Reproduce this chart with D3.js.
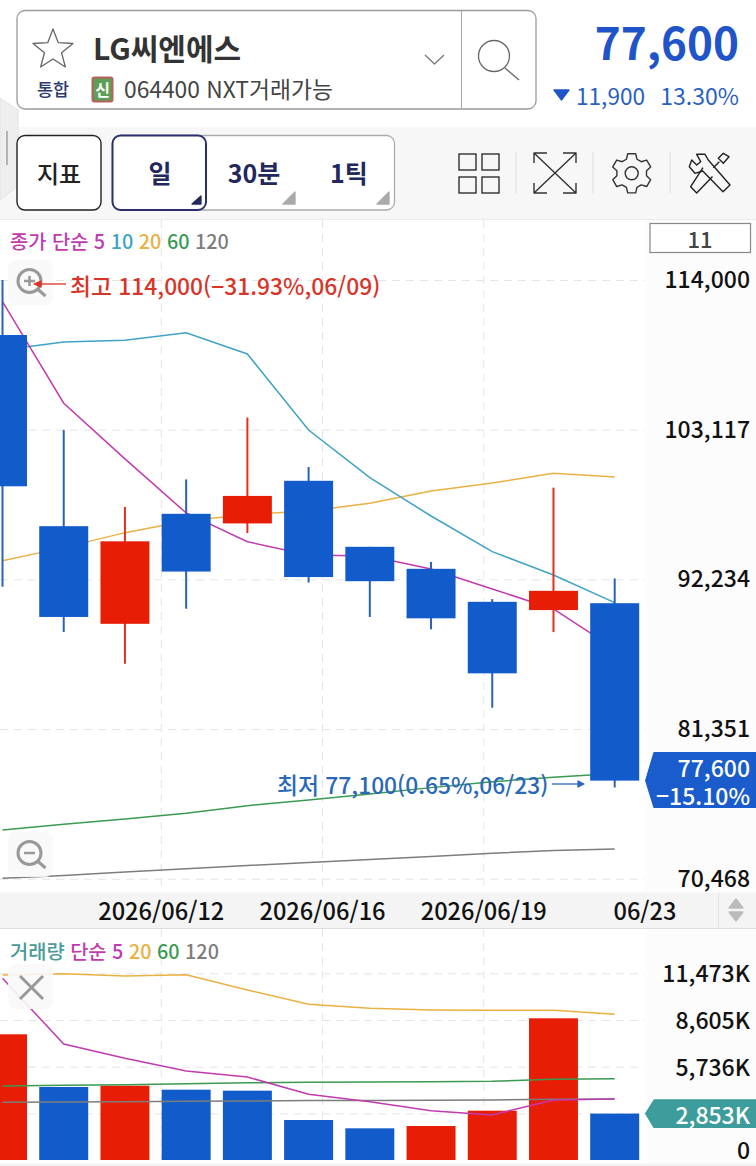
<!DOCTYPE html>
<html lang="ko">
<head>
<meta charset="utf-8">
<title>LG씨엔에스</title>
<script src="https://cdn.jsdelivr.net/npm/d3@7"></script>
<style>
  html, body { margin: 0; padding: 0; background: #fff; }
  svg { display: block; }
  text { font-family: "Noto Sans CJK KR", "Noto Sans", sans-serif; }
</style>
</head>
<body>
<div id="chart"></div>
<script>
// Data
const opens  = [110000, 96100, 89000, 97000, 96300, 99400, 94600, 93000, 90600, 90000, 90500];
const highs  = [114000, 103100, 97500, 99500, 104000, 100400, 94600, 93500, 90800, 98900, 92300];
const lows   = [91700, 88400, 86100, 90100, 95600, 92000, 89500, 88600, 82900, 88400, 77100];
const closes = [99000, 89500, 95000, 92800, 98300, 92400, 92100, 89400, 85400, 91400, 77600];

const ma5   = [112420, 105040, 100990, 97060, 94970, 94000, 93930, 92990, 91530, 90080, 87170];
const ma10  = [108910, 109490, 109620, 110170, 108620, 103090, 99630, 96840, 94250, 92550, 90540];
const ma20  = [93590, 94540, 95630, 96480, 96950, 97200, 97760, 98660, 99240, 99950, 99680];
const ma60  = [74010, 74430, 74810, 75230, 75780, 76190, 76630, 77090, 77520, 77840, 78120];
const ma120 = [70500, 70700, 70960, 71190, 71430, 71650, 71870, 72080, 72320, 72510, 72630];

const volumes = [7725, 4487, 4566, 4320, 4260, 2458, 1947, 2090, 3030, 8708, 2853];
const volUp   = [true, false, true, false, false, false, false, true, true, true, false];
const volMa5   = [11170, 7130, 6250, 5470, 5100, 4040, 3580, 3030, 2770, 3690, 3750];
const volMa20  = [11370, 11450, 11310, 11390, 10450, 9570, 9320, 9220, 9200, 9200, 8960];
const volMa60  = [4550, 4590, 4630, 4690, 4750, 4780, 4790, 4810, 4840, 4960, 5000];
const volMa120 = [3550, 3570, 3580, 3610, 3630, 3650, 3650, 3670, 3690, 3730, 3750];

const priceTicks = [114000, 103117, 92234, 81351, 70468];
const volGrid = [0, 2868, 5736, 8605, 11473];
const volLabels = [0, 5736, 8605, 11473];
const dateLabels = ["", "2026/06/12", "2026/06/16", "2026/06/19", "06/23"];

// Colors
const BLUE = "#125bca", RED = "#e81d06";
const C5 = "#c13bb0", C10 = "#3ea3c4", C20 = "#e9b143", C60 = "#3a9a52", C120 = "#7d7d7d";

// Layout
const width = 756, height = 1166, plotRight = 645;
const priceTop = 280, priceBottom = 878.7;
const volTop = 973.3, volBottom = 1160;

const x = d3.scaleBand().domain(d3.range(closes.length))
  .range([-28.1, plotRight + 0.3]).paddingInner(0.2).paddingOuter(0.1);
const cx = i => x(i) + x.bandwidth() / 2;
const xGrid = d3.scaleLinear([0, dateLabels.length - 1], [0, plotRight]);
const y = d3.scaleLinear([priceTicks[4], priceTicks[0]], [priceBottom, priceTop]);
const yVol = d3.scaleLinear([0, volGrid[4]], [volBottom, volTop]);

const svg = d3.select("#chart").append("svg")
  .attr("width", width).attr("height", height).attr("viewBox", [0, 0, width, height]);

const rect = (g, a, b, w, h, fill, stroke, r) => g.append("rect")
  .attr("x", a).attr("y", b).attr("width", w).attr("height", h)
  .attr("fill", fill).attr("stroke", stroke || "none").attr("rx", r || 0);
const label = (g, a, b, str, size, color, weight, anchor) => g.append("text")
  .attr("x", a).attr("y", b).attr("font-size", size).attr("fill", color)
  .attr("font-weight", weight || 500).attr("text-anchor", anchor || "start")
  .attr("dominant-baseline", "central").text(str);
const path = (g, d, stroke, w, fill) => g.append("path").attr("d", d)
  .attr("stroke", stroke).attr("stroke-width", w || 1.3).attr("fill", fill || "none")
  .attr("stroke-linejoin", "round");

// Backgrounds
rect(svg, 0, 127, width, 92, "#f7f7f7");
svg.append("line").attr("x1", 0).attr("x2", width).attr("y1", 219.5).attr("y2", 219.5).attr("stroke", "#ebebeb");
rect(svg, plotRight + 1, 220, width, 672, "#fcfcfc");
rect(svg, plotRight + 1, 929, width, 235, "#fcfcfc");

// Side handle
path(svg, "M0,98L18,110V186L0,200Z", "#e3e3e3", 1, "#eeeeee");
rect(svg, 6, 131, 2, 34, "#b5b5b5");

// Header box
rect(svg, 17, 10.5, 519, 98.5, "#fff", "#9a9a9a", 8).attr("stroke-width", 1.3);
svg.append("line").attr("x1", 461.5).attr("x2", 461.5).attr("y1", 11).attr("y2", 109).attr("stroke", "#a5a5a5");
const starPts = d3.range(10).map(i => {
  const r = i % 2 ? 9 : 21, a = i * Math.PI / 5;
  return [53 + r * Math.sin(a), 50 - r * Math.cos(a)];
});
path(svg, "M" + starPts.join("L") + "Z", "#666", 1.3, "#fff");
label(svg, 93, 47, "LG씨엔에스", 30, "#333", 700);
path(svg, "M425,55L434.5,64L444,55", "#777", 1.3);
svg.append("circle").attr("cx", 494).attr("cy", 56).attr("r", 15.5).attr("fill", "none").attr("stroke", "#666").attr("stroke-width", 1.3);
path(svg, "M505,68L519,80", "#666", 1.3);
label(svg, 37, 88, "통합", 17.5, "#2c3a6e", 500);
rect(svg, 92.5, 77.5, 20, 24, "#5f9e56", "#b8605e", 2).attr("stroke-width", 2);
label(svg, 102.5, 89, "신", 16, "#fff", 700, "middle");
label(svg, 124, 88, "064400 NXT거래가능", 22.8, "#444", 400);

// Current price
label(svg, 739, 41, d3.format(",")(closes[10]), 44, "#1f55c9", 700, "end");
path(svg, "M554,90H569L561.5,100Z", "#1f55c9", 0, "#1f55c9");
label(svg, 576, 95, "11,900", 22.6, "#2a5fc4", 400);
label(svg, 739, 95, "13.30%", 23, "#2a5fc4", 400, "end");

// Toolbar
rect(svg, 17, 135.5, 84, 74.5, "#fff", "#222", 8).attr("stroke-width", 1.4);
label(svg, 59, 172, "지표", 24, "#222", 500, "middle");
rect(svg, 112.5, 135.5, 282, 74.5, "#fff", "#aaa", 8).attr("stroke-width", 1.3);
rect(svg, 112.5, 135.5, 93.5, 74.5, "#fff", "#2b2f6e", 8).attr("stroke-width", 2);
label(svg, 160, 172, "일", 25, "#23285c", 700, "middle");
label(svg, 254, 172, "30분", 25, "#23285c", 700, "middle");
label(svg, 349, 172, "1틱", 25, "#23285c", 700, "middle");
path(svg, "M201,196V204H192Z", "#23285c", 0, "#23285c");
path(svg, "M295,192V204H283Z", "#aaa", 0, "#aaa");
path(svg, "M389,192V204H377Z", "#aaa", 0, "#aaa");

// Toolbar icons
[[459, 154], [482, 154], [459, 177], [482, 177]].forEach(([a, b]) => rect(svg, a, b, 17, 16, "none", "#222").attr("stroke-width", 1.3));
[516, 593, 670].forEach(a => svg.append("line").attr("x1", a).attr("x2", a).attr("y1", 152).attr("y2", 193).attr("stroke", "#ddd"));
path(svg, "M534,153L576,193M576,153L534,193M534,163V153H547M563,153H576V163M534,183V193H547M563,193H576V183", "#333", 1.4);
const gearPts = d3.range(6).flatMap(i => {
  const a = i * Math.PI / 3;
  return [[a - 0.36, 15], [a - 0.2, 20], [a + 0.2, 20], [a + 0.36, 15]];
});
path(svg, d3.lineRadial().curve(d3.curveLinearClosed)(gearPts), "#333", 1.4).attr("transform", "translate(631.7,173.3)");
svg.append("circle").attr("cx", 631.7).attr("cy", 173.3).attr("r", 6.5).attr("fill", "none").attr("stroke", "#333").attr("stroke-width", 1.4);
// wrench
path(svg, "M696.7,154.3L705,154.3L708.3,160L730,185L723,191.7L702.7,171L695,173.3L689.3,166.7L691.7,160L696.7,165L700.7,161.7Z", "#222", 1.4);
// screwdriver
path(svg, "M723.3,153.3L729,156.7L723.3,163.3L718.3,158.3Z M719.3,161.7L713.3,167.7", "#222", 1.4);
path(svg, "M703,167.7L690.7,186.7L696.7,193L712.5,176.5", "#222", 1.4);

// Grid
const gridStyle = g => {
  g.select(".domain").remove();
  g.selectAll("text").remove();
  g.selectAll("line").attr("stroke", "#e4e4e4").attr("stroke-dasharray", "8 6");
};
svg.append("g").call(d3.axisRight(y).tickValues(priceTicks).tickSize(plotRight)).call(gridStyle);
svg.append("g").call(d3.axisRight(yVol).tickValues(volGrid.slice(1)).tickSize(plotRight)).call(gridStyle);
[[220, 892], [929, 1160]].forEach(([a, b]) => {
  svg.append("g").selectAll("line").data(d3.range(1, 4)).join("line")
    .attr("x1", d => xGrid(d)).attr("x2", d => xGrid(d)).attr("y1", a).attr("y2", b)
    .attr("stroke", "#e4e4e4").attr("stroke-dasharray", "8 6");
});

// Moving averages, price panel (candles sit on top of them)
const drawLine = (values, scale, color) => svg.append("path")
  .datum(values)
  .attr("fill", "none").attr("stroke", color).attr("stroke-width", 1.5)
  .attr("d", d3.line().x((d, i) => cx(i)).y(d => scale(d)));
drawLine(ma120, y, C120);
drawLine(ma60, y, C60);
drawLine(ma20, y, C20);
drawLine(ma10, y, C10);
drawLine(ma5, y, C5);

// Candles
const candles = svg.append("g").selectAll("g").data(closes).join("g");
candles.append("line")
  .attr("x1", (d, i) => cx(i)).attr("x2", (d, i) => cx(i))
  .attr("y1", (d, i) => y(highs[i])).attr("y2", (d, i) => y(lows[i]))
  .attr("stroke", (d, i) => d >= opens[i] ? "#e2301c" : "#2a62b8").attr("stroke-width", 2);
candles.append("rect")
  .attr("x", (d, i) => x(i)).attr("width", x.bandwidth())
  .attr("y", (d, i) => y(Math.max(d, opens[i])))
  .attr("height", (d, i) => Math.abs(y(d) - y(opens[i])))
  .attr("fill", (d, i) => d >= opens[i] ? RED : BLUE);

// Volume bars and averages
svg.append("g").selectAll("rect").data(volumes).join("rect")
  .attr("x", (d, i) => x(i)).attr("width", x.bandwidth())
  .attr("y", d => yVol(d)).attr("height", d => yVol(0) - yVol(d))
  .attr("fill", (d, i) => volUp[i] ? RED : BLUE);
drawLine(volMa120, yVol, C120);
drawLine(volMa60, yVol, C60);
drawLine(volMa20, yVol, C20);
drawLine(volMa5, yVol, C5);

// Axis labels
const axisStyle = g => {
  g.select(".domain").remove();
  g.selectAll("line").remove();
  g.selectAll("text").attr("font-size", 23).attr("font-weight", 500).attr("fill", "#111")
    .attr("font-family", '"Noto Sans CJK KR", "Noto Sans", sans-serif');
};
svg.append("g").attr("transform", "translate(750,0)")
  .call(d3.axisLeft(y).tickValues(priceTicks).tickSize(0).tickPadding(0).tickFormat(d3.format(",")))
  .call(axisStyle);
svg.append("g").attr("transform", "translate(750,0)")
  .call(d3.axisLeft(yVol).tickValues(volLabels).tickSize(0).tickPadding(0)
    .tickFormat(d => d ? d3.format(",")(d) + "K" : "0"))
  .call(axisStyle)
  .call(g => g.selectAll(".tick text").filter(d => d === 0).attr("y", -9))
  .call(g => g.selectAll(".tick text").filter(d => d > 0).attr("y", 1));

// Date strip
rect(svg, 0, 892.5, width, 35.5, "#f4f4f4");
svg.append("line").attr("x1", 0).attr("x2", width).attr("y1", 928.5).attr("y2", 928.5).attr("stroke", "#dedede");
svg.append("line").attr("x1", 718.5).attr("x2", 718.5).attr("y1", 893).attr("y2", 928).attr("stroke", "#e2e2e2");
svg.append("g").selectAll("text").data(dateLabels).join("text")
  .attr("x", (d, i) => xGrid(i)).attr("y", 910)
  .attr("text-anchor", "middle").attr("dominant-baseline", "central")
  .attr("font-size", 23.6).attr("font-weight", 500).attr("fill", "#111").text(d => d);
path(svg, "M729,908L736,899L743,908Z", "#bbb", 0, "#bbb");
path(svg, "M729,912L736,921L743,912Z", "#bbb", 0, "#bbb");
rect(svg, 0, 1163.5, width, 3, "#f2f2f2");

// Legends
const legend = (b, parts) => {
  const t = svg.append("text").attr("x", 10).attr("y", b).attr("font-size", 19.8)
    .attr("font-weight", 500).attr("dominant-baseline", "central");
  parts.forEach(([str, color]) => t.append("tspan").attr("fill", color).text(str));
};
legend(240, [["종가 단순 5 ", C5], ["10 ", C10], ["20 ", C20], ["60 ", C60], ["120", C120]]);
legend(949.5, [["거래량 ", "#4a9a9a"], ["단순 5 ", C5], ["20 ", C20], ["60 ", C60], ["120", C120]]);

// Period box
rect(svg, 650, 223.5, 100.5, 29, "#fff", "#888").attr("stroke-width", 1.2);
label(svg, 700, 238, "11", 22, "#444", 500, "middle");

// Zoom buttons
[[8, 260], [8, 832], [8, 964]].forEach(([a, b]) => rect(svg, a, b, 45, 45, "#f8f8f8", null, 8).attr("fill-opacity", 0.9));
const magnifier = (a, b, sign) => {
  svg.append("circle").attr("cx", a).attr("cy", b).attr("r", 11.5).attr("fill", "none").attr("stroke", "#999").attr("stroke-width", 3);
  path(svg, `M${a + 8},${b + 8}L${a + 16},${b + 15}`, "#999", 3);
  path(svg, sign, "#999", 2.5);
};
magnifier(29.5, 281, "M24,281H35M29.5,276V286");
magnifier(29.5, 853, "M24,853H35");
path(svg, "M20,976L43,999M43,976L20,999", "#999", 3);

// High and low notes
label(svg, 70, 285, "최고 114,000(−31.93%,06/09)", 22.8, "#d8352a", 500);
path(svg, "M66,284H40", "#d8352a", 1.3);
path(svg, "M34,284L41,281V287Z", "#d8352a", 0, "#d8352a");
label(svg, 277, 784, "최저 77,100(0.65%,06/23)", 22.8, "#2a68b8", 500);
path(svg, "M552,784H582", "#2a68b8", 1.3);
path(svg, "M584,784L578,781V787Z", "#2a68b8", 0, "#2a68b8");

// Current value tags
const tag = (tip, top, bottom, color) => path(svg,
  `M645.7,${tip}L654,${top}H756V${bottom}H654Z`, color, 0, color);
tag(y(closes[10]), 752.7, 807.3, "#1a5ccb");
label(svg, 750, 767, d3.format(",")(closes[10]), 23, "#fff", 500, "end");
label(svg, 750, 795, "−15.10%", 23, "#fff", 500, "end");
tag(yVol(volumes[10]), 1100, 1127.3, "#3d9c9c");
label(svg, 750, 1114, d3.format(",")(volumes[10]) + "K", 23, "#fff", 500, "end");
</script>
</body>
</html>
